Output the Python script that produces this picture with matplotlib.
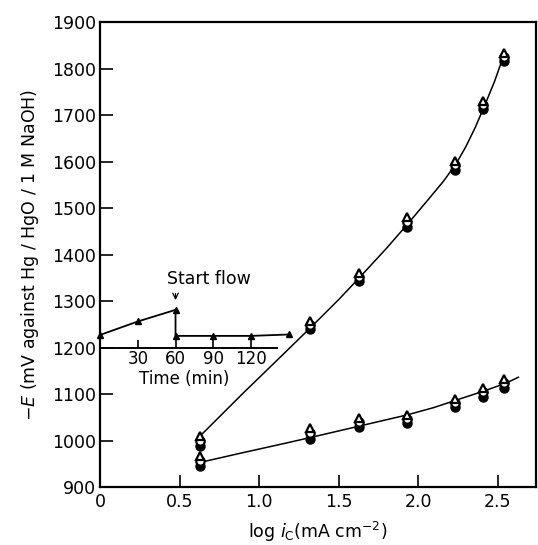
import matplotlib.pyplot as plt
import numpy as np

plt.rcParams["font.family"] = ["DejaVu Sans"]

# main plot: log current density (x) vs -E (mV)
log_ic = [0.63, 1.32, 1.63, 1.93, 2.23, 2.41, 2.54]

upper_tri = [1010, 1258, 1360, 1480, 1602, 1730, 1834]
upper_open = [999, 1249, 1351, 1470, 1592, 1721, 1825]
upper_fill = [988, 1240, 1342, 1460, 1582, 1712, 1816]

lower_tri = [966, 1026, 1048, 1054, 1090, 1113, 1133]
lower_open = [956, 1016, 1039, 1046, 1081, 1104, 1124]
lower_fill = [946, 1004, 1028, 1037, 1072, 1094, 1114]

# hand drawn fitted curves
upper_curve_x = [0.63, 0.9, 1.15, 1.33, 1.5, 1.63, 1.8, 1.93, 2.08, 2.16, 2.24, 2.30, 2.36, 2.42, 2.48, 2.54]
upper_curve_y = [1010, 1102, 1185, 1245, 1303, 1350, 1413, 1464, 1525, 1558, 1596, 1632, 1674, 1722, 1772, 1830]
lower_curve_x = [0.63, 0.9, 1.15, 1.33, 1.63, 1.93, 2.1, 2.24, 2.41, 2.55, 2.63]
lower_curve_y = [953, 974, 993, 1007, 1031, 1055, 1071, 1087, 1106, 1123, 1136]

# inset: potential vs time before/after starting flow
time_min = [0, 30, 60, 60, 90, 120, 150]
inset_mv = [1227, 1256, 1281, 1225, 1225, 1225, 1228]
inset_ticks = [30, 60, 90, 120]

fig = plt.figure(figsize=(5.38, 5.45), dpi=100)
ax = fig.add_axes([0.186, 0.1064, 0.81, 0.8532])

ax.plot(upper_curve_x, upper_curve_y, color="black", lw=1.1)
ax.plot(lower_curve_x, lower_curve_y, color="black", lw=1.1)

for ys_fill, ys_open, ys_tri in [(upper_fill, upper_open, upper_tri),
                                 (lower_fill, lower_open, lower_tri)]:
    ax.plot(log_ic, ys_fill, "o", ms=6.5, mfc="black", mec="black", ls="none")
    ax.plot(log_ic, ys_open, "o", ms=6, mfc="white", mec="black", mew=1.6, ls="none")
    ax.plot(log_ic, ys_tri, "^", ms=6, mfc="white", mec="black", mew=1.6, ls="none")

ax.set_xlim(0, 2.74)
ax.set_ylim(900, 1900)
ax.set_xticks([0, 0.5, 1.0, 1.5, 2.0, 2.5])
ax.set_xticklabels(["0", "0.5", "1.0", "1.5", "2.0", "2.5"])
ax.set_yticks(range(900, 2000, 100))
ax.tick_params(direction="in", length=9, width=1.2, labelsize=12.5, pad=4)
ax.tick_params(axis="y", pad=3)
for s in ax.spines.values():
    s.set_linewidth(1.6)

ax.set_xlabel(r"log $i_\mathrm{C}$(mA cm$^{-2}$)", fontsize=12.5, labelpad=7)
ax.set_ylabel(r"$-E$ (mV against Hg / HgO / 1 M NaOH)", fontsize=12.5, labelpad=8)

# inset drawn in main data coordinates
ins = ax.inset_axes([0, 1200, 1.265, 150], transform=ax.transData)
ins.patch.set_alpha(0)
ins.set_xlim(0, 160)
ins.set_ylim(1200, 1350)
for side in ["top", "right", "left"]:
    ins.spines[side].set_visible(False)
ins.spines["bottom"].set_bounds(0, 141)
ins.spines["bottom"].set_linewidth(1.4)
ins.set_yticks([])
ins.set_xticks(inset_ticks)
ins.tick_params(axis="x", direction="in", length=6, width=1.2, labelsize=12, pad=2)
ins.plot(time_min, inset_mv, color="black", lw=1.3, marker="^", ms=5, clip_on=False)
ins.set_xlabel("Time (min)", fontsize=12, labelpad=0)
ins.xaxis.set_label_coords(0.42, -0.32)
ins.annotate("", xy=(60, 1296), xytext=(60, 1322),
             arrowprops=dict(arrowstyle="->", color="black", lw=0.9))
ins.text(53, 1327, "Start flow", fontsize=12.5, ha="left", va="bottom")

fig.savefig("out.png", dpi=100)
